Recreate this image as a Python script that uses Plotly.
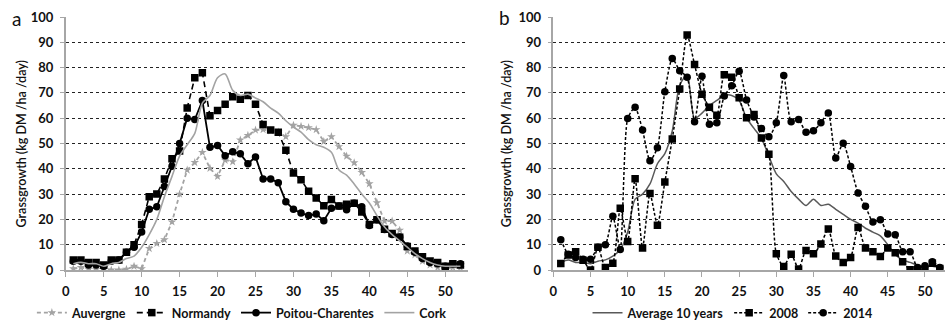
import plotly.graph_objects as go

weeks = list(range(1, 53))

auvergne = [0.5, 1, 0.3, 0.2, 0.2, 0, 0, 0.3, 1.5, 0.5, 8.5, 10.5, 12, 19, 30, 39.5, 42.5, 46.5, 40.2, 37,
            43.4, 42.8, 51.4, 53.2, 55.3, 55.5, 55, 54.5, 52.7, 57.2, 56.8, 56.3, 55.5, 50.8, 52.7, 48.8, 45, 42.4, 38.6, 34.1,
            26.6, 19.3, 19.3, 15.7, 7.5, 6, 3.5, 2, 1, 0.5, 1, 1]
normandy = [4, 4, 3, 3, 2, 4, 4, 7, 10, 18, 29, 30, 36, 44, 47, 64, 76, 78, 61, 63,
            65.5, 68.5, 67.5, 69, 65.5, 57.5, 55.3, 54.4, 47.3, 38.3, 35.7, 31.1, 28.5, 25.4, 27.9, 25.3, 26, 26.4, 22.9, 18,
            19.9, 16.1, 14.4, 12.9, 9.3, 7.5, 5.2, 3.6, 3, 1.5, 2.5, 2]
poitou = [3.5, 3.5, 2, 2, 1.5, 3.5, 4, 7, 9, 15, 24, 25, 33, 41, 50, 60, 59.5, 67, 48.5, 49.2,
          45.2, 46.7, 45.9, 42, 44.7, 36, 36, 34.5, 27, 24, 22.5, 21.5, 22.1, 19.5, 24.4, 25.3, 23.8, 26.4, 25, 17.6,
          19.9, 16, 14, 13, 9.5, 7, 4.5, 3, 2.5, 1.5, 2.5, 2.5]
cork = [2.5, 3, 2.5, 2.5, 1.5, 2.5, 3, 4.5, 5.5, 9, 14, 20, 29, 37, 45, 49.5, 54, 66, 69, 76,
        77.5, 71, 69, 69.5, 68, 66.5, 64, 62, 59, 56.5, 54.5, 51.5, 49.5, 48.5, 46.5, 39.5, 37.5, 34, 30, 26.5,
        21.5, 17, 14, 11.5, 9, 6.5, 4.5, 3, 2, 1.5, 1.5, 1.5]

avg10 = [3, 4, 3, 3, 2.5, 3.5, 4, 5.5, 8, 15, 28, 30, 34, 42, 46, 55, 73, 77, 60, 62,
         65, 67, 69, 69, 67, 60, 56, 52, 45, 38, 35, 31, 28, 25.5, 28, 25.5, 26, 24, 22, 20,
         18.5, 16.5, 15, 13.5, 10, 6, 4, 3, 2, 1.5, 1.5, 1]
y2008 = [2.6, 5.9, 7.2, 3.9, 0, 9, 1, 2.7, 24.4, 11.3, 36.1, 8.7, 30.2, 17.7, 34.8, 51.8, 71.5, 92.9, 81.2, 69.5,
         64.3, 61.2, 77.2, 76.2, 68.1, 60.2, 61.5, 52.2, 45.8, 6.4, 1.4, 6.2, 0.4, 7.7, 6.4, 10.3, 16.2, 5.5, 3, 4.9,
         16.8, 8.7, 7.2, 5.3, 8.7, 6.8, 3.3, 0.1, 0.1, 0, 2.7, 0.6]
y2014 = [12, 6.2, 4.9, 4.2, 4.2, 9, 10, 21.2, 8.1, 59.9, 64.3, 55.3, 43.2, 48.3, 70.5, 83.6, 78.8, 76.2, 58.6, 76.6,
         57.6, 58.2, 68.8, 72.8, 78.6, 67.2, 60.5, 55.9, 52.7, 58.2, 76.9, 58.6, 59.5, 54.4, 55, 58.2, 62.1, 44.3, 50.1, 40.9,
         30.4, 25.2, 19, 19.9, 14.2, 13.9, 7.2, 7.2, 1, 1.7, 3.3, 1]

x_ticks = [0, 5, 10, 15, 20, 25, 30, 35, 40, 45, 50]
y_title = "Grassgrowth (kg DM /ha /day)"
names_a = ["Auvergne", "Normandy", "Poitou-Charentes", "Cork"]
names_b = ["Average 10 years", "2008", "2014"]
FONT = "Lato"

fig = go.Figure()

GRAY = "#a3a3a3"
fig.add_trace(go.Scatter(x=weeks, y=auvergne, name=names_a[0], mode="lines+markers",
                         line=dict(color=GRAY, width=1.8, dash="4px,3px"),
                         marker=dict(symbol="star", size=6.5, color=GRAY),
                         xaxis="x", yaxis="y", legend="legend"))
fig.add_trace(go.Scatter(x=weeks, y=normandy, name=names_a[1], mode="lines+markers",
                         line=dict(color="black", width=1.6, dash="6px,4px"),
                         marker=dict(symbol="square", size=7.5, color="black"),
                         xaxis="x", yaxis="y", legend="legend"))
fig.add_trace(go.Scatter(x=weeks, y=poitou, name=names_a[2], mode="lines+markers",
                         line=dict(color="black", width=1.8),
                         marker=dict(symbol="circle", size=7.5, color="black"),
                         xaxis="x", yaxis="y", legend="legend"))
fig.add_trace(go.Scatter(x=weeks, y=cork, name=names_a[3], mode="lines",
                         line=dict(color=GRAY, width=1.6, shape="spline", smoothing=0.8),
                         xaxis="x", yaxis="y", legend="legend"))

fig.add_trace(go.Scatter(x=weeks, y=avg10, name=names_b[0], mode="lines",
                         line=dict(color="#595959", width=1.5, shape="spline", smoothing=0.8),
                         xaxis="x2", yaxis="y2", legend="legend2"))
fig.add_trace(go.Scatter(x=weeks, y=y2008, name=names_b[1], mode="lines+markers",
                         line=dict(color="black", width=1.5, dash="3px,2px", shape="spline", smoothing=0.6),
                         marker=dict(symbol="square", size=7.5, color="black"),
                         xaxis="x2", yaxis="y2", legend="legend2"))
fig.add_trace(go.Scatter(x=weeks, y=y2014, name=names_b[2], mode="lines+markers",
                         line=dict(color="black", width=1.5, dash="3px,2px", shape="spline", smoothing=0.6),
                         marker=dict(symbol="circle", size=7.5, color="black"),
                         xaxis="x2", yaxis="y2", legend="legend2"))

W, H = 946, 328
tickfont = dict(family=FONT, size=13, color="#111111", weight=700)
common_x = dict(tickvals=x_ticks, showline=True, linecolor="#a6a6a6", linewidth=1.5,
                ticks="outside", ticklen=5, tickcolor="#a6a6a6", showgrid=False, zeroline=False,
                tickfont=tickfont, ticklabelstandoff=4)
common_y = dict(range=[0, 100], dtick=10, showline=True, linecolor="#a6a6a6", linewidth=1.5,
                ticks="outside", ticklen=4, tickcolor="#a6a6a6", showgrid=True, gridcolor="#222222",
                griddash="3px,3px", gridwidth=1, zeroline=False, tickfont=tickfont, ticklabelstandoff=4)

legend_common = dict(orientation="h", yanchor="middle", y=-0.17, xanchor="left",
                     font=dict(family=FONT, size=12.5, color="#111111", weight=700),
                     bgcolor="rgba(0,0,0,0)", itemwidth=30, tracegroupgap=0)

fig.update_layout(
    width=W, height=H,
    margin=dict(l=0, r=0, t=17, b=51),
    paper_bgcolor="white", plot_bgcolor="white",
    xaxis=dict(domain=[62 / W, 466 / W], range=[0, 53], anchor="y", **common_x),
    yaxis=dict(domain=[0, 1], anchor="x", **common_y),
    xaxis2=dict(domain=[551.7 / W, 945 / W], range=[0, 52.7], anchor="y2", **common_x),
    yaxis2=dict(domain=[0, 1], anchor="x2", **common_y),
    legend=dict(x=28 / W, **legend_common),
    legend2=dict(x=586 / W, **legend_common),
    annotations=[
        dict(text=y_title, x=18 / W, y=0.5, xref="paper", yref="paper", textangle=-90,
             showarrow=False, xanchor="center", yanchor="middle",
             font=dict(family=FONT, size=12.5, color="#111111", weight=600)),
        dict(text=y_title, x=505 / W, y=0.5, xref="paper", yref="paper", textangle=-90,
             showarrow=False, xanchor="center", yanchor="middle",
             font=dict(family=FONT, size=12.5, color="#111111", weight=600)),
        dict(text="a", x=13 / W, y=(277 - 19) / 260, xref="paper", yref="paper",
             showarrow=False, xanchor="center", yanchor="middle",
             font=dict(family=FONT, size=19, color="#111111")),
        dict(text="b", x=503 / W, y=(277 - 18) / 260, xref="paper", yref="paper",
             showarrow=False, xanchor="center", yanchor="middle",
             font=dict(family=FONT, size=19, color="#111111")),
    ],
)

fig.write_html("out.html", config={"displayModeBar": False},
               post_script="document.body.style.margin='0';")
